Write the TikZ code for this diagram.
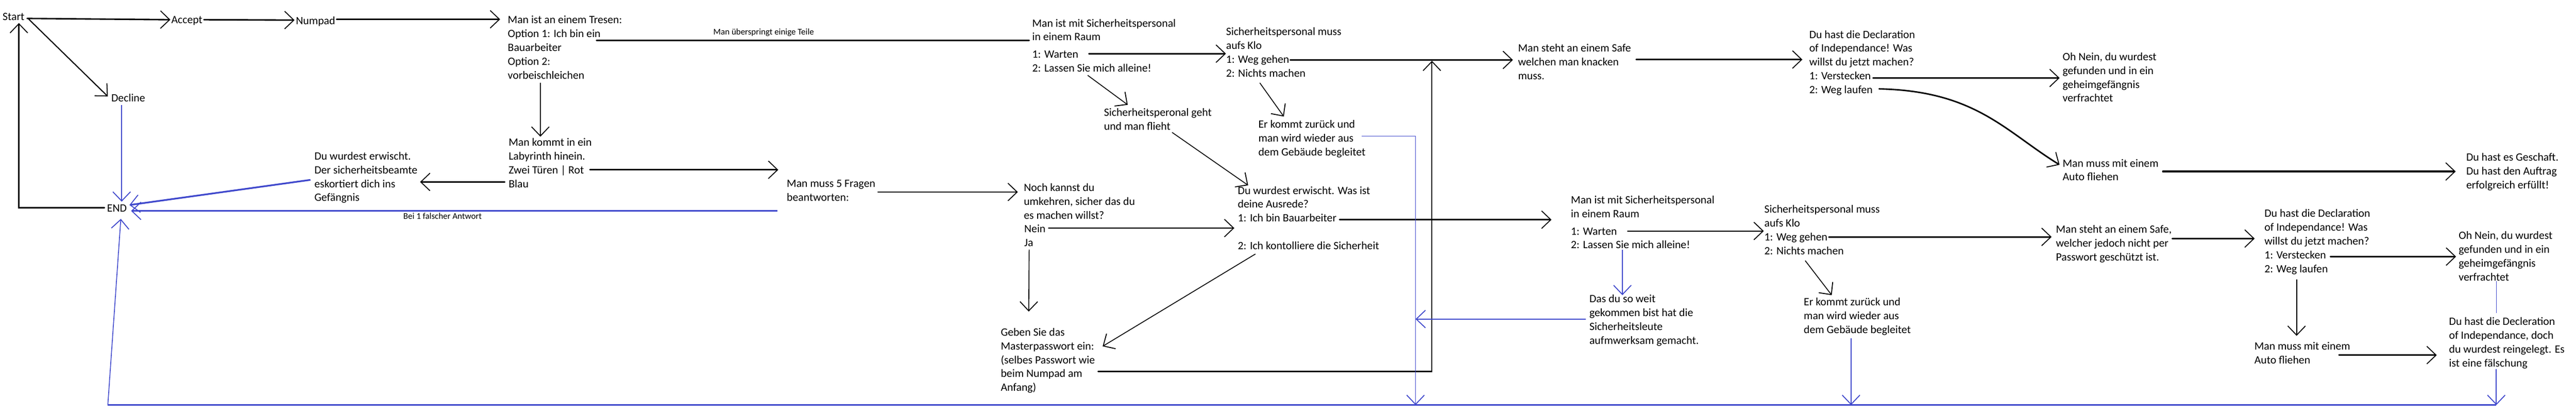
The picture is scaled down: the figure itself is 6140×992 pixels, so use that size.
\documentclass[tikz,border=0pt]{standalone}
\usepackage{fontspec}
\setmainfont{Carlito}
\usetikzlibrary{arrows.meta,calc}
\definecolor{pblue}{RGB}{63,72,204}
\newcommand\mytl[4]{\node[txt] (#1) at (#2,#3) {#4};}
\begin{document}
\begin{tikzpicture}[x=0.5pt,y=-0.5pt,
  txt/.style={anchor=base west,inner sep=0pt,font=\fontsize{13.35pt}{16pt}\selectfont},
  sml/.style={anchor=base west,inner sep=0pt,font=\fontsize{10.4pt}{12pt}\selectfont},
  arr/.style={-{Straight Barb[length=11pt,width=21pt,line width=1.1pt]}},
  lnA/.style={draw=black,line width=1.75pt,line cap=round},
  lnB/.style={draw=black,line width=1.3pt,line cap=round},
  lnC/.style={draw=black,line width=1pt,line cap=round},
  blA/.style={draw=pblue,line width=1.5pt},
  blB/.style={draw=pblue,line width=1.2pt},
  blC/.style={draw=pblue,line width=1pt},
  blD/.style={draw=pblue,line width=2pt}]
\fill[white,use as bounding box] (0,0) rectangle (6140,992);

% ---------- texts ----------
\mytl{start}{6}{48}{Start}
\mytl{accept}{408}{56}{Accept}
\mytl{numpad}{705}{58}{Numpad}
\mytl{decline}{265}{243}{Decline}
\mytl{END}{255}{505}{END}

\mytl{tresen-1}{1210}{56}{Man ist an einem Tresen:}
\mytl{tresen-2}{1210}{89}{Option 1: Ich bin ein}
\mytl{tresen-3}{1210}{122}{Bauarbeiter}
\mytl{tresen-4}{1210}{155}{Option 2:}
\mytl{tresen-5}{1210}{188}{vorbeischleichen}

\mytl{laby-1}{1212}{348}{Man kommt in ein}
\mytl{laby-2}{1212}{381}{Labyrinth hinein.}
\mytl{laby-3}{1212}{414}{Zwei Türen | Rot}
\mytl{laby-4}{1212}{447}{Blau}

\mytl{erw1-1}{749}{381}{Du wurdest erwischt.}
\mytl{erw1-2}{749}{414}{Der sicherheitsbeamte}
\mytl{erw1-3}{749}{447}{eskortiert dich ins}
\mytl{erw1-4}{749}{480}{Gefängnis}

\mytl{fragen-1}{1875}{446}{Man muss 5 Fragen}
\mytl{fragen-2}{1875}{479}{beantworten:}

\mytl{raum1-1}{2460}{64}{Man ist mit Sicherheitspersonal}
\mytl{raum1-2}{2460}{97}{in einem Raum}
\mytl{raum1-3}{2460}{138}{1: Warten}
\mytl{raum1-4}{2460}{171}{2: Lassen Sie mich alleine!}

\mytl{klo1-1}{2922}{84}{Sicherheitspersonal muss}
\mytl{klo1-2}{2922}{117}{aufs Klo}
\mytl{klo1-3}{2922}{150}{1: Weg gehen}
\mytl{klo1-4}{2922}{183}{2: Nichts machen}

\mytl{geht-1}{2631}{277}{Sicherheitsperonal geht}
\mytl{geht-2}{2631}{310}{und man flieht}

\mytl{noch-1}{2440}{456}{Noch kannst du}
\mytl{noch-2}{2440}{489}{umkehren, sicher das du}
\mytl{noch-3}{2440}{522}{es machen willst?}
\mytl{noch-4}{2441}{555}{Nein}
\mytl{noch-5}{2441}{588}{Ja}

\mytl{ausrede-1}{2950}{463}{Du wurdest erwischt. Was ist}
\mytl{ausrede-2}{2950}{496}{deine Ausrede?}
\mytl{ausrede-3}{2950}{529}{1: Ich bin Bauarbeiter}
\mytl{ausrede-4}{2950}{595}{2: Ich kontolliere die Sicherheit}

\mytl{geben-1}{2385}{801}{Geben Sie das}
\mytl{geben-2}{2385}{834}{Masterpasswort ein:}
\mytl{geben-3}{2385}{867}{(selbes Passwort wie}
\mytl{geben-4}{2385}{900}{beim Numpad am}
\mytl{geben-5}{2385}{933}{Anfang)}

\mytl{erk1-1}{2999}{305}{Er kommt zurück und}
\mytl{erk1-2}{2999}{338}{man wird wieder aus}
\mytl{erk1-3}{2999}{371}{dem Gebäude begleitet}

\mytl{safe1-1}{3618}{124}{Man steht an einem Safe}
\mytl{safe1-2}{3618}{157}{welchen man knacken}
\mytl{safe1-3}{3618}{190}{muss.}

\mytl{decl1-1}{4312}{91}{Du hast die Declaration}
\mytl{decl1-2}{4312}{124}{of Independance! Was}
\mytl{decl1-3}{4312}{157}{willst du jetzt machen?}
\mytl{decl1-4}{4312}{190}{1: Verstecken}
\mytl{decl1-5}{4312}{223}{2: Weg laufen}

\mytl{ohnein1-1}{4916}{144}{Oh Nein, du wurdest}
\mytl{ohnein1-2}{4916}{177}{gefunden und in ein}
\mytl{ohnein1-3}{4916}{210}{geheimgefängnis}
\mytl{ohnein1-4}{4916}{243}{verfrachtet}

\mytl{auto1-1}{4916}{398}{Man muss mit einem}
\mytl{auto1-2}{4916}{431}{Auto fliehen}

\mytl{geschafft-1}{5878}{384}{Du hast es Geschaft.}
\mytl{geschafft-2}{5878}{417}{Du hast den Auftrag}
\mytl{geschafft-3}{5878}{450}{erfolgreich erfüllt!}

\mytl{raum2-1}{3744}{486}{Man ist mit Sicherheitspersonal}
\mytl{raum2-2}{3744}{519}{in einem Raum}
\mytl{raum2-3}{3744}{560}{1: Warten}
\mytl{raum2-4}{3744}{593}{2: Lassen Sie mich alleine!}

\mytl{dasdu-1}{3788}{722}{Das du so weit}
\mytl{dasdu-2}{3788}{755}{gekommen bist hat die}
\mytl{dasdu-3}{3788}{788}{Sicherheitsleute}
\mytl{dasdu-4}{3788}{821}{aufmwerksam gemacht.}

\mytl{klo2-1}{4205}{508}{Sicherheitspersonal muss}
\mytl{klo2-2}{4205}{541}{aufs Klo}
\mytl{klo2-3}{4205}{574}{1: Weg gehen}
\mytl{klo2-4}{4205}{607}{2: Nichts machen}

\mytl{erk2-1}{4299}{729}{Er kommt zurück und}
\mytl{erk2-2}{4299}{762}{man wird wieder aus}
\mytl{erk2-3}{4299}{795}{dem Gebäude begleitet}

\mytl{safe2-1}{4900}{556}{Man steht an einem Safe,}
\mytl{safe2-2}{4900}{589}{welcher jedoch nicht per}
\mytl{safe2-3}{4900}{622}{Passwort geschützt ist.}

\mytl{decl2-1}{5397}{518}{Du hast die Declaration}
\mytl{decl2-2}{5397}{551}{of Independance! Was}
\mytl{decl2-3}{5397}{584}{willst du jetzt machen?}
\mytl{decl2-4}{5397}{617}{1: Verstecken}
\mytl{decl2-5}{5397}{650}{2: Weg laufen}

\mytl{ohnein2-1}{5860}{571}{Oh Nein, du wurdest}
\mytl{ohnein2-2}{5860}{604}{gefunden und in ein}
\mytl{ohnein2-3}{5860}{637}{geheimgefängnis}
\mytl{ohnein2-4}{5860}{670}{verfrachtet}

\mytl{auto2-1}{5373}{834}{Man muss mit einem}
\mytl{auto2-2}{5373}{867}{Auto fliehen}

\mytl{decler-1}{5837}{776}{Du hast die Decleration}
\mytl{decler-2}{5837}{809}{of Independance, doch}
\mytl{decler-3}{5837}{842}{du wurdest reingelegt. Es}
\mytl{decler-4}{5837}{875}{ist eine fälschung}

\node[sml] (skiplbl) at (1700,83) {Man überspringt einige Teile};
\node[sml] (beilbl) at (961,523) {Bei 1 falscher Antwort};

% ---------- named free ends on the bottom return line ----------
\coordinate (botR) at (5950,966);
\coordinate (botL) at (257,966);
\coordinate (botM) at (3374,966);

% ---------- black connectors ----------
\draw[lnA,arr] ($(start.base east)+(6,-4)$) -- ($(accept.base west)+(-2,-9)$);
\draw[lnA,arr] ($(accept.base east)+(3,-9)$) -- ($(numpad.base west)+(-3,-10)$);
\draw[lnA,arr] ($(numpad.base east)+(3,-12)$) -- ($(tresen-1.base west)+(-18,-10)$);
\draw[lnB,arr] ($(start.base east)+(10,-2)$) -- ($(decline.base west)+(-8,-13)$);
\draw[lnA,arr] ($(END.base west)+(-6,-9)$) -| ($(start.base west)+(39,7)$);

\draw[lnC,arr] ($(tresen-5.base west)+(78,10)$) -- ($(laby-1.base west)+(76,-22)$);
\draw[lnA,arr] ($(laby-4.base west)+(-9,-13)$) -- ($(erw1-2.base east)+(6,20)$);
\draw[lnA,arr] ($(laby-3.base east)+(14,-9)$) -- ($(fragen-1.base west)+(-20,-41)$);
\draw[lnA] ($(tresen-2.base east)+(-10,7)$) -- ($(raum1-2.base west)+(-7,-1)$);
\draw[lnA,arr] ($(fragen-1.base east)+(6,12)$) -- ($(noch-1.base west)+(-14,2)$);

\draw[lnA,arr] ($(raum1-3.base east)+(25,-10)$) -- ($(klo1-3.base west)+(0,-22)$);
\draw[lnC,arr] ($(raum1-4.base west)+(133,9)$) -- ($(geht-1.base west)+(57,-27)$);
\draw[lnC,arr] ($(geht-2.base west)+(163,6)$) -- ($(ausrede-1.base west)+(25,-21)$);
\draw[lnA,arr] ($(klo1-3.base east)+(2,-7)$) -- ($(safe1-2.base west)+(-12,-14)$);
\draw[lnC,arr] ($(klo1-4.base west)+(81,15)$) -- ($(erk1-1.base west)+(61,-27)$);

\draw[lnA,arr] ($(noch-4.base east)+(7,-11)$) -- ($(ausrede-3.base west)+(-8,15)$);
\draw[lnC,arr] ($(noch-5.base west)+(12,8)$) -- ($(geben-1.base west)+(67,-58)$);
\draw[lnC,arr] ($(ausrede-4.base west)+(42,11)$) -- ($(geben-2.base east)+(20,-8)$);
\draw[lnB,arr] ($(geben-4.base east)+(37,-14)$) -| ($(safe1-2.base west)+(-205,-12)$);

\draw[lnA,arr] ($(ausrede-3.base east)+(7,-5)$) -- ($(raum2-2.base west)+(-46,5)$);
\draw[lnB,arr] ($(raum2-3.base east)+(25,-9)$) -- ($(klo2-3.base west)+(-1,-23)$);
\draw[lnA,arr] ($(klo2-3.base east)+(3,-9)$) -- ($(safe2-1.base west)+(-10,9)$);
\draw[lnC,arr] ($(klo2-4.base west)+(98,15)$) -- ($(erk2-1.base west)+(67,-25)$);

\draw[lnA,arr] ($(safe1-1.base east)+(12,18)$) -- ($(decl1-2.base west)+(-16,18)$);
\draw[lnA,arr] ($(decl1-4.base east)+(5,-4)$) -- ($(ohnein1-2.base west)+(-7,9)$);
\draw[lnA,arr] ($(decl1-5.base east)+(15,-11)$) .. controls ($(decl1-5.base east)+(245,-6)$) and ($(auto1-1.base west)+(-137,-85)$) .. ($(auto1-1.base west)+(-7,-5)$);
\draw[lnA,line width=2pt,arr] ($(auto1-1.base east)+(10,11)$) -- ($(geschafft-2.base west)+(-25,-8)$);

\draw[lnA,arr] ($(safe2-1.base east)+(1,13)$) -- ($(decl2-2.base west)+(-23,18)$);
\draw[lnA,arr] ($(decl2-4.base east)+(10,-5)$) -- ($(ohnein2-2.base west)+(-6,8)$);
\draw[lnC,arr] ($(decl2-5.base west)+(77,17)$) -- ($(auto2-1.base west)+(101,-33)$);
\draw[lnA,arr] ($(auto2-2.base west)+(202,-20)$) -- ($(decler-3.base west)+(-29,5)$);

% ---------- blue connectors ----------
\draw[blC,arr] ($(decline.base west)+(25,7)$) -- ($(END.base west)+(35,-24)$);
\draw[blA,arr] ($(fragen-2.base west)+(-22,24)$) -- ($(END.base east)+(10,-2)$);
\draw[blD,arr] ($(erw1-3.base west)+(-9,-18)$) -- ($(END.base east)+(6,-16)$);
\draw[blA] (botR) -- (botL);
\draw[blC,arr] (botL) -- ($(END.base west)+(33,17)$);

\draw[blC,arr] ($(erk1-2.base east)+(19,-13)$) -| (botM);
\draw[blB,arr] ($(dasdu-2.base west)+(-8,6)$) coordinate (d0) -- (d0 -| botM);
\draw[blC,arr] ($(raum2-4.base west)+(123,3)$) -- ($(dasdu-1.base west)+(79,-18)$);
\draw[blB,arr] ($(erk2-3.base west)+(113,12)$) coordinate (e2) -- (e2 |- botR);
\draw[blC] ($(ohnein2-4.base west)+(90,1)$) -- ($(decler-1.base west)+(113,-29)$);
\draw[blB,arr] ($(decler-4.base west)+(113,6)$) -- (botR);
\end{tikzpicture}
\end{document}
